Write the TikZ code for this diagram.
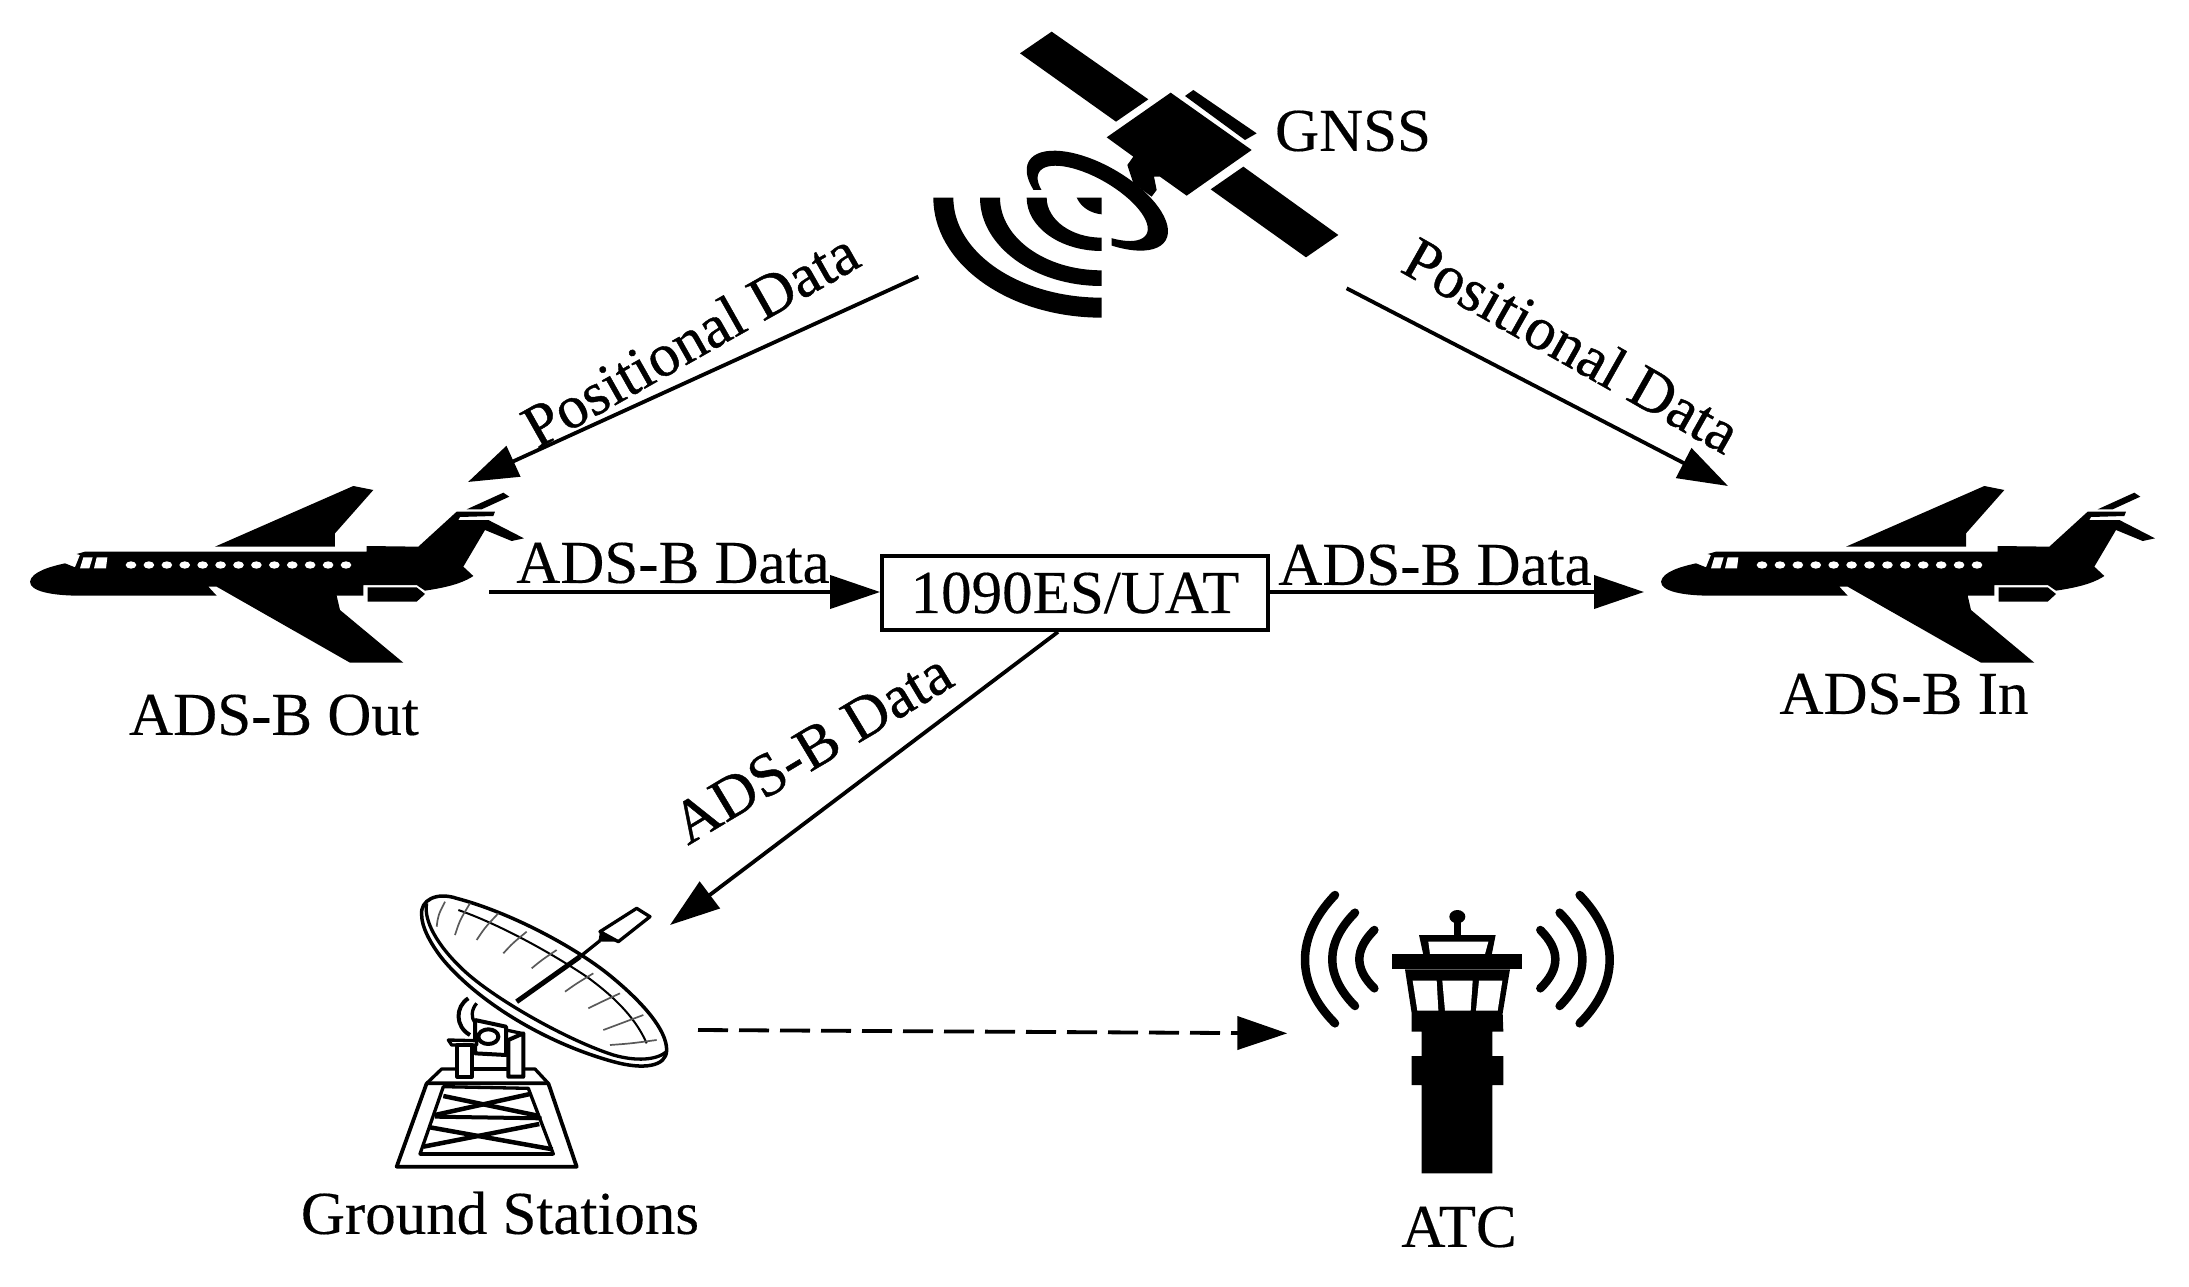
\documentclass[tikz,border=0pt]{standalone}
\usepackage{fontspec}
\setmainfont{Liberation Serif}
\newfontfamily\heavyserif[FakeBold=0.7]{Liberation Serif}
\newfontfamily\midserif[FakeBold=0.25]{Liberation Serif}
\usetikzlibrary{arrows.meta}
\tikzset{
  lbl/.style={inner sep=0pt,font=\midserif\fontsize{61}{70}\selectfont,text=black},
  tiltlbl/.style={inner sep=0pt,font=\heavyserif\fontsize{61}{70}\selectfont,text=black},
  flow/.style={line width=3.8pt,-{Triangle[length=50pt,width=33pt]},black},
  dashflow/.style={flow,dash pattern=on 30pt off 11pt},
  ink/.style={fill=black,draw=none},
  hole/.style={fill=white,draw=none},
  thin line/.style={draw=black,line width=3.3pt,line join=round},
  rib/.style={draw=black!65,line width=1.7pt},
  wave/.style={draw=black,line width=8.5pt,line cap=round},
  zoomed/.style={xscale=1/3,yscale=1/3},
  planeicon/.pic={
    \fill[ink] (30,335) .. controls (35,305) and (90,290) .. (135,280) -- (165,292) -- (180,255) -- (170,252) -- (195,245)
      -- (1040,245) -- (1040,228) -- (1195,230) -- (1310,125) -- (1425,125) -- (1420,138) -- (1320,141) -- (1315,150) -- (1405,150)
      -- (1512,205) -- (1475,213) -- (1395,180) -- (1330,290) -- (1360,318) .. controls (1320,345) and (1260,355) .. (1215,362)
      -- (1190,345) -- (1030,345) -- (1030,377) -- (950,377) -- (960,420) -- (1150,578) -- (990,578) -- (590,350) -- (565,350)
      -- (590,377) -- (180,377) .. controls (100,377) and (30,365) .. (30,335) -- cycle;
    \fill[ink] (1340,118) -- (1450,68) -- (1468,80) -- (1385,118) -- cycle;
    \fill[ink] (1043,352) -- (1190,352) -- (1215,372) -- (1190,395) -- (1043,395) -- cycle;
    \fill[ink] (585,230) -- (1000,48) -- (1060,60) -- (945,190) -- (945,230) -- cycle;
    \fill[hole] (190,262) -- (218,262) -- (208,295) -- (180,295) -- cycle;
    \fill[hole] (230,262) -- (262,262) -- (258,295) -- (222,295) -- cycle;
    \foreach \i in {0,...,12}{\fill[hole] (333+53.75*\i,285) ellipse [x radius=16,y radius=11];}
  }
}
\begin{document}
\begin{tikzpicture}[x=1pt,y=-1pt]
\useasboundingbox (0,0) rectangle (2189,1287);

% satellite
\begin{scope}[shift={(900,20)},zoomed]
  \fill[ink] (455,35) -- (360,100) -- (648,305) -- (745,238) -- cycle;
  \fill[ink] (880,210) -- (855,228) -- (1035,360) -- (1070,340) -- cycle;
  \fill[ink] (1030,440) -- (932,508) -- (1218,712) -- (1315,645) -- cycle;
  % dish ring, cut by the gaps of the waves
  \begin{scope}
    \clip (300,300) -- (900,300) -- (900,800) -- (635,800) -- (635,510) -- (300,510) -- cycle;
    \begin{scope}[shift={(592,542)},rotate=-30]
      \fill[ink,even odd rule] (0,0) ellipse [x radius=237,y radius=106] (-8,14) ellipse [x radius=186,y radius=74];
    \end{scope}
  \end{scope}
  % white gap between dish and body, then the body and its neck
  \draw[white,line width=7pt] (620,352) -- (700,410);
  \fill[ink] (812,218) -- (620,352) -- (700,410) -- (682,435) -- (700,490) -- (755,530) -- (770,510) -- (762,470) -- (780,470) -- (860,527) -- (1055,390) -- cycle;
  % waves
  \foreach \rxa/\rya/\rxb/\ryb in {505/360/445/300,365/265/305/218,225/160/165/120}{
    \fill[ink] (605-\rxa,533) arc[start angle=180,end angle=90,x radius=\rxa,y radius=\rya] -- (605,533+\ryb)
      arc[start angle=90,end angle=180,x radius=\rxb,y radius=\ryb] -- cycle;
  }
  \fill[ink] (530,533) .. controls (545,565) and (575,580) .. (605,583) -- (605,533) -- cycle;
  \coordinate (satL) at (55,770);
  \coordinate (satR) at (1340,805);
\end{scope}

% aircraft
\pic (planeOut) [shift={(20,470)},zoomed] {planeicon};
\pic (planeIn) [shift={(1651,470)},zoomed] {planeicon};
\coordinate (outTip) at (468,482);
\coordinate (inTip) at (1728,486);
\coordinate (outTail) at (489,592);
\coordinate (inNose) at (1644,592);

% ground station
\begin{scope}[shift={(380,870)},zoomed]
  \draw[thin line,line width=3.5pt] (125,135) .. controls (120,90) and (170,65) .. (230,85) .. controls (400,130) and (600,240) .. (700,325)
     .. controls (790,400) and (860,480) .. (860,540) .. controls (860,590) and (790,600) .. (700,575)
     .. controls (500,520) and (300,400) .. (190,270) .. controls (150,220) and (125,170) .. (125,135) -- cycle;
  \draw[thin line] (140,100) .. controls (130,150) and (170,225) .. (250,300) .. controls (340,385) and (560,510) .. (700,555) .. controls (770,575) and (830,570) .. (860,545);
  \draw[thin line,line width=2pt] (235,120) .. controls (350,160) and (500,240) .. (620,320) .. controls (710,385) and (770,450) .. (800,520);
  \foreach \a/\b/\c/\d in {195/95/170/170,270/100/225/195,355/130/290/210,440/185/370/250,530/240/455/295,640/310/555/365,720/370/625/415,790/435/670/480,830/510/690/525}{
    \draw[rib] (\a,\b) .. controls ({(\a+\c)/2-8},{(\b+\d)/2+3}) .. (\c,\d);
  }
  \draw[draw=black,line width=5pt] (410,395) -- (600,260);
  \draw[thin line] (600,260) -- (660,212);
  \draw[thin line,fill=white] (770,115) -- (810,140) -- (715,215) -- (660,185) -- cycle;
  \fill[ink] (660,185) -- (655,215) -- (715,215) -- cycle;
  % mount
  \draw[thin line,line width=4pt] (265,385) .. controls (225,410) and (225,470) .. (270,495);
  \draw[thin line] (290,400) .. controls (272,420) and (275,445) .. (283,455);
  \draw[thin line,line width=4pt] (285,450) -- (285,550) -- (378,555) -- (378,470) -- (285,450);
  \draw[thin line,line width=4pt] (325,500) ellipse [x radius=30,y radius=22];
  \draw[thin line,fill=white] (205,510) -- (290,512) -- (290,525) -- (215,525) -- cycle;
  \draw[thin line,fill=white,line width=4pt] (232,525) -- (275,525) -- (275,620) -- (232,620) -- cycle;
  \draw[thin line,fill=white,line width=4pt] (385,510) -- (430,490) -- (430,620) -- (385,620) -- cycle;
  \draw[thin line] (378,480) -- (425,490);
  % base
  \draw[thin line] (140,640) -- (185,597) -- (232,597);
  \draw[thin line] (275,597) -- (385,597);
  \draw[thin line] (430,597) -- (465,597) -- (505,640);
  \draw[thin line,line width=3.8pt] (140,640) -- (505,640) -- (590,890) -- (50,890) -- cycle;
  % lattice
  \draw[thin line] (190,650) -- (445,655) -- (520,852) -- (120,852) -- cycle;
  \draw[thin line] (120,852) -- (520,852);
  \draw[thin line,line width=4pt] (165,740) -- (485,745);
  \draw[thin line,line width=4.5pt] (450,672) -- (165,735);
  \draw[thin line,line width=4.5pt] (190,678) -- (478,738);
  \draw[thin line,line width=4.5pt] (478,762) -- (130,830);
  \draw[thin line,line width=4.5pt] (150,772) -- (518,838);
  \coordinate (gndIn) at (870,165);
  \coordinate (gndOut) at (954,480);
\end{scope}

% control tower
\begin{scope}[shift={(1280,870)},zoomed]
  \draw[wave] (165,75) .. controls (45,200) and (45,340) .. (165,460);
  \draw[wave] (225,128) .. controls (134,220) and (134,316) .. (225,408);
  \draw[wave] (283,180) .. controls (223,240) and (223,296) .. (283,355);
  \draw[wave] (899,75) .. controls (1019,200) and (1019,340) .. (899,460);
  \draw[wave] (839,128) .. controls (930,220) and (930,316) .. (839,408);
  \draw[wave] (781,180) .. controls (841,240) and (841,296) .. (781,355);
  \fill[ink] (532,140) ellipse [x radius=24,y radius=20];
  \fill[ink] (522,150) rectangle (542,200);
  \fill[ink] (417,195) -- (647,195) -- (635,255) -- (430,255) -- cycle;
  \fill[hole] (445,215) -- (625,215) -- (615,252) -- (450,252) -- cycle;
  \fill[ink] (337,252) rectangle (727,298);
  \fill[ink] (375,298) -- (690,298) -- (668,430) -- (670,485) -- (637,485) -- (637,558) -- (670,558) -- (670,645) -- (637,645)
     -- (637,910) -- (425,910) -- (425,645) -- (395,645) -- (395,558) -- (425,558) -- (425,485) -- (395,485) -- (395,430) -- cycle;
  \fill[hole] (398,332) -- (470,332) -- (475,422) -- (412,422) -- cycle;
  \fill[hole] (487,332) -- (578,332) -- (572,422) -- (495,422) -- cycle;
  \fill[hole] (597,332) -- (667,332) -- (653,422) -- (588,422) -- cycle;
  \coordinate (atcIn) at (22,490);
\end{scope}

\node[lbl,draw=black,line width=3.8pt,minimum width=386pt,minimum height=74pt] (box) at (1075,593) {1090ES/UAT};

\node[lbl] (gnss) at (1353,131) {GNSS};
\node[tiltlbl,rotate=29.5] (posL) at (690,339) {Positional Data};
\node[tiltlbl,rotate=-29.5] (posR) at (1572,345) {Positional Data};
\node[lbl] (outLbl) at (274,715) {ADS-B Out};
\node[lbl] (inLbl) at (1904,694) {ADS-B In};
\node[lbl] (dataL) at (673,563) {ADS-B Data};
\node[lbl] (dataR) at (1435,565) {ADS-B Data};
\node[tiltlbl,rotate=31] (dataD) at (812,748) {ADS-B Data};
\node[lbl] (gndLbl) at (500,1213) {Ground Stations};
\node[lbl] (atcLbl) at (1459,1227) {ATC};

\draw[flow] (satL) -- (outTip);
\draw[flow] (satR) -- (inTip);
\draw[flow] (outTail) -- (box.west |- outTail);
\draw[flow] (box.east |- inNose) -- (inNose);
\draw[flow] (box.south -| 1058,631) -- (gndIn);
\draw[dashflow] (gndOut |- 0,1030) -- (atcIn);
\end{tikzpicture}
\end{document}
